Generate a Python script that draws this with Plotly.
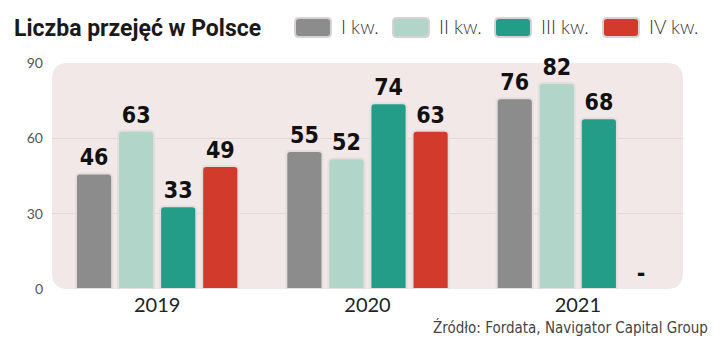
import plotly.graph_objects as go

years = ["2019", "2020", "2021"]
series_names = ["I kw.", "II kw.", "III kw.", "IV kw."]
q1 = [46, 55, 76]
q2 = [63, 52, 82]
q3 = [33, 74, 68]
q4 = [49, 63, None]
colors = ["#8c8c8c", "#b2d5ca", "#249d88", "#d23a2b"]
y_ticks = [0, 30, 60, 90]
title = "Liczba przejęć w Polsce"
source = "Źródło: Fordata, Navigator Capital Group"

W, H = 720, 353
L, R, T, B = 52, 37, 63, 64
pw, ph = W - L - R, H - T - B

COND = "DejaVu Sans Condensed, Roboto Condensed, Roboto"

fig = go.Figure()
for name, vals, col in zip(series_names, [q1, q2, q3, q4], colors):
    yv = [v if v is not None else 0 for v in vals]
    txt = [str(v) if v is not None else "-" for v in vals]
    lw = [2 if v is not None else 0 for v in vals]
    fig.add_trace(go.Bar(
        x=years, y=yv, name=name, text=txt, textposition="outside",
        texttemplate="<b>%{text}</b>",
        cliponaxis=False,
        textfont=dict(family=COND, size=23, color="#111"),
        marker=dict(color=col, line=dict(color="#e4dede", width=lw)),
        showlegend=False,
    ))


def rounded(x0, y0, x1, y1, rx, ry):
    return (f"M {x0+rx} {y0} L {x1-rx} {y0} Q {x1} {y0} {x1} {y0+ry} L {x1} {y1-ry} "
            f"Q {x1} {y1} {x1-rx} {y1} L {x0+rx} {y1} Q {x0} {y1} {x0} {y1-ry} "
            f"L {x0} {y0+ry} Q {x0} {y0} {x0+rx} {y0} Z")


def px_to_paper(px_x, px_y):
    return (px_x - L) / pw, 1 - (px_y - T) / ph


r = 16
shapes = [
    dict(type="path", xref="paper", yref="paper", path=rounded(0, 0, 1, 1, r / pw, r / ph),
         fillcolor="#f3e8e8", line=dict(width=0), layer="below"),
]

annotations = []
tx, ty = px_to_paper(12, 28)
annotations.append(dict(text=f"<b>{title}</b>", x=tx, y=ty, xref="paper", yref="paper",
                        xanchor="left", yanchor="middle", showarrow=False,
                        font=dict(family="Roboto", size=23, color="#1a1a1a")))
sx, sy = px_to_paper(710, 327)
annotations.append(dict(text=source, x=sx, y=sy, xref="paper", yref="paper",
                        xanchor="right", yanchor="middle", showarrow=False,
                        font=dict(family=COND, size=15, color="#444")))

leg_x = [295, 393, 495, 603]
for name, col, lx in zip(series_names, colors, leg_x):
    x0, y1 = px_to_paper(lx, 18)
    x1, y0 = px_to_paper(lx + 36, 37)
    shapes.append(dict(type="path", xref="paper", yref="paper",
                       path=rounded(x0, y0, x1, y1, 4 / pw, 4 / ph),
                       fillcolor=col, line=dict(color="#d8d2d2", width=2), layer="above"))
    ax, ay = px_to_paper(lx + 44, 27)
    annotations.append(dict(text=name, x=ax, y=ay, xref="paper", yref="paper",
                            xanchor="left", yanchor="middle", showarrow=False,
                            font=dict(family="Lato", size=19, color="#333", weight=300)))

fig.update_layout(
    width=W, height=H,
    margin=dict(l=L, r=R, t=T, b=B),
    paper_bgcolor="white", plot_bgcolor="rgba(0,0,0,0)",
    barmode="group", bargap=0.2, bargroupgap=0.14,
    barcornerradius=4,
    xaxis=dict(showline=False, showgrid=False, ticks="",
               tickfont=dict(family="Lato", size=20, color="#222"), ticklabelstandoff=2),
    yaxis=dict(range=[0, 90], tickvals=y_ticks, showgrid=True, gridcolor="#e4d8d8", gridwidth=1,
               zeroline=False, showline=False, ticks="",
               tickfont=dict(family="Lato", size=14, color="#555"), ticklabelstandoff=8),
    font=dict(family="Lato"),
    shapes=shapes, annotations=annotations,
)
fig.write_html("out.html")
